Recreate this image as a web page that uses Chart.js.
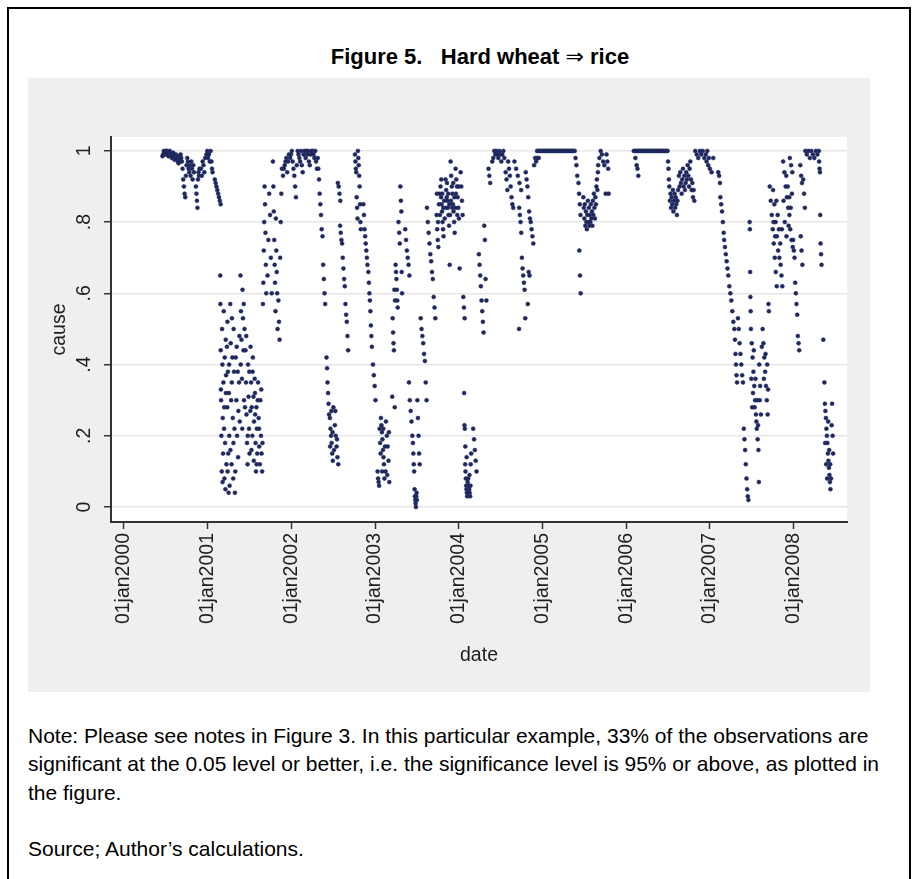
<!DOCTYPE html>
<html>
<head>
<meta charset="utf-8">
<script src="https://cdn.jsdelivr.net/npm/chart.js@4.4.0/dist/chart.umd.min.js"></script>
<style>
  body { margin: 0; background: #fff; font-family: "Liberation Sans", Arial, sans-serif; overflow: hidden; }
  #frame { position: absolute; left: 7px; top: 7px; width: 900px; height: 900px; border: 2px solid #000; border-bottom: 0; }
  #title { position: absolute; left: 180px; width: 600px; top: 43px; text-align: center; font-weight: bold; font-size: 22px; line-height: 28px; color: #000; }
  #title .arrow { font-weight: normal; font-family: "DejaVu Sans", sans-serif; }
  #panel { position: absolute; left: 28px; top: 78px; width: 842px; height: 614px; background: #efefef; }
  #note { position: absolute; left: 28px; top: 722px; font-size: 21px; line-height: 28.3px; color: #000; white-space: nowrap; }
</style>
</head>
<body>
<div id="frame"></div>
<div id="title">Figure 5.&nbsp;&nbsp;&nbsp;Hard wheat <span class="arrow">&rArr;</span> rice</div>
<canvas id="panel" width="842" height="614"></canvas>
<div id="note">Note: Please see notes in Figure 3. In this particular example, 33% of the observations are<br>significant at the 0.05 level or better, i.e. the significance level is 95% or above, as plotted in<br>the figure.<br><br>Source; Author&rsquo;s calculations.</div>
<script>
// date (decimal year), cause
var obs2000 = [
  [2000.460,.985],[2000.468,.99],[2000.476,1.0],[2000.484,.995],[2000.492,.99],[2000.500,1.0],[2000.508,.995],[2000.516,1.0],[2000.524,.99],[2000.532,.985],
  [2000.540,.995],[2000.548,1.0],[2000.556,.99],[2000.564,.985],[2000.572,.98],[2000.580,.99],[2000.588,.995],[2000.596,.985],[2000.604,.975],[2000.612,.98],
  [2000.620,.99],[2000.628,.985],[2000.636,.975],[2000.644,.97],[2000.652,.965],[2000.660,.975],[2000.668,.985],[2000.676,.99],[2000.684,.98],[2000.692,.97],
  [2000.700,.95],[2000.708,.92],[2000.716,.90],[2000.724,.88],[2000.732,.87],[2000.740,.93],[2000.748,.96],[2000.756,.98],
  [2000.764,.97],[2000.772,.95],[2000.780,.94],[2000.788,.96],[2000.796,.93],[2000.804,.97],[2000.812,.95],[2000.820,.92],[2000.828,.96],[2000.836,.94],
  [2000.860,.90],[2000.866,.88],[2000.872,.86],[2000.878,.84],[2000.884,.92],[2000.890,.94],[2000.896,.93],[2000.902,.95],
  [2000.920,.95],[2000.930,.93],[2000.940,.97],[2000.950,.96],[2000.960,.94],[2000.970,.98],[2000.985,.99],[2000.995,1.0]
];
var obs2001 = [
  [2001.005,.98],[2001.015,.99],[2001.025,.97],[2001.035,1.0],[2001.045,.97],[2001.052,.95],[2001.058,.94],
  [2001.085,.92],[2001.095,.91],[2001.105,.90],[2001.115,.89],[2001.125,.88],[2001.135,.87],[2001.145,.86],[2001.155,.85],[2001.150,.65],
  [2001.152,.57],[2001.156,.44],[2001.160,.30],[2001.164,.20],[2001.168,.10],[2001.172,.50],[2001.176,.40],[2001.180,.25],[2001.184,.15],[2001.188,.35],
  [2001.192,.55],[2001.196,.22],[2001.200,.08],[2001.204,.42],[2001.208,.18],[2001.212,.05],[2001.216,.47],[2001.220,.37],[2001.224,.12],
  [2001.230,.45],[2001.234,.28],[2001.238,.10],[2001.242,.38],[2001.246,.15],[2001.250,.04],[2001.254,.32],[2001.258,.20],[2001.262,.06],
  [2001.270,.57],[2001.275,.46],[2001.280,.30],[2001.285,.12],[2001.290,.53],[2001.295,.42],[2001.300,.25],[2001.305,.08],[2001.310,.50],[2001.315,.38],[2001.320,.22],[2001.325,.04],
  [2001.335,.42],[2001.343,.30],[2001.351,.20],[2001.359,.38],[2001.367,.27],[2001.375,.35],[2001.383,.24],
  [2001.392,.65],[2001.398,.55],[2001.404,.47],[2001.410,.36],[2001.416,.61],[2001.422,.53],[2001.428,.44],[2001.434,.30],[2001.440,.50],
  [2001.452,.44],[2001.458,.35],[2001.464,.26],[2001.470,.18],[2001.476,.12],[2001.482,.40],[2001.488,.31],[2001.494,.22],[2001.500,.15],
  [2001.512,.45],[2001.519,.35],[2001.526,.28],[2001.533,.20],[2001.540,.42],[2001.547,.31],[2001.554,.24],
  [2001.562,.36],[2001.567,.26],[2001.572,.18],[2001.577,.10],[2001.582,.28],[2001.587,.22],[2001.592,.15],
  [2001.602,.35],[2001.609,.25],[2001.616,.17],[2001.623,.12],[2001.630,.30],[2001.637,.20],[2001.644,.15],[2001.651,.10],
  [2001.158,.33],[2001.178,.07],[2001.198,.28],[2001.218,.32],[2001.236,.52],[2001.256,.40],[2001.272,.16],[2001.288,.35],[2001.308,.18],[2001.330,.10],
  [2001.347,.45],[2001.363,.14],[2001.379,.48],[2001.395,.40],[2001.413,.22],[2001.431,.57],[2001.446,.28],[2001.461,.48],[2001.479,.20],[2001.497,.38],
  [2001.509,.27],[2001.523,.16],[2001.537,.38],[2001.551,.13],[2001.565,.32],[2001.585,.12],[2001.598,.30],[2001.614,.22],[2001.640,.33],[2001.655,.18],
  [2001.660,.57],[2001.665,.63],[2001.670,.72],[2001.675,.80],[2001.680,.90],[2001.685,.85],[2001.690,.77],[2001.695,.68],[2001.700,.60],
  [2001.715,.65],[2001.725,.75],[2001.735,.88],[2001.745,.82],[2001.755,.70],[2001.765,.60],
  [2001.780,.97],[2001.785,.90],[2001.790,.83],[2001.795,.75],[2001.800,.68],[2001.805,.63],[2001.810,.55],[2001.815,.81],[2001.820,.72],[2001.825,.66],[2001.830,.60],[2001.835,.50],
  [2001.845,.58],[2001.852,.52],[2001.859,.47],[2001.866,.70],[2001.873,.80],[2001.880,.88],[2001.887,.95],
  [2001.900,.93],[2001.910,.95],[2001.920,.96],[2001.930,.97],[2001.940,.98],[2001.950,.94],[2001.960,.97],[2001.970,.99],
  [2001.985,.98],[2001.995,.99]
];
var obs2002 = [
  [2002.005,1.0],[2002.015,.97],[2002.025,.95],[2002.035,.93],[2002.045,.90],[2002.055,.87],[2002.065,.96],
  [2002.075,1.0],[2002.085,.99],[2002.095,.98],[2002.105,.97],[2002.115,1.0],[2002.125,.96],[2002.135,.94],[2002.145,.99],[2002.155,1.0],
  [2002.170,.98],[2002.180,1.0],[2002.190,.99],[2002.200,1.0],[2002.210,.97],[2002.220,.96],[2002.230,.99],[2002.240,1.0],
  [2002.255,1.0],[2002.265,.99],[2002.275,.98],[2002.285,1.0],[2002.295,.97],[2002.305,.95],[2002.315,.98],
  [2002.322,.95],[2002.330,.92],[2002.338,.88],[2002.346,.85],[2002.354,.82],[2002.362,.78],
  [2002.372,.76],[2002.380,.68],[2002.388,.64],[2002.396,.60],[2002.404,.57],
  [2002.420,.42],[2002.426,.39],[2002.432,.35],[2002.438,.32],[2002.444,.29],[2002.450,.26],
  [2002.460,.25],[2002.467,.22],[2002.474,.20],[2002.481,.18],[2002.488,.15],[2002.495,.13],[2002.502,.28],
  [2002.463,.17],[2002.478,.27],[2002.492,.21],[2002.510,.16],[2002.525,.27],[2002.545,.19],
  [2002.520,.23],[2002.530,.20],[2002.540,.17],[2002.550,.14],[2002.560,.12],
  [2002.555,.91],[2002.565,.90],[2002.575,.88],[2002.585,.86],
  [2002.582,.79],[2002.590,.77],[2002.598,.75],[2002.606,.74],[2002.614,.70],[2002.622,.67],[2002.630,.64],[2002.638,.62],[2002.646,.57],[2002.654,.54],[2002.662,.52],[2002.670,.48],[2002.678,.44],
  [2002.760,.99],[2002.765,.97],[2002.770,.95],[2002.775,.94],[2002.780,.87],[2002.785,.84],[2002.790,.81],
  [2002.795,1.0],[2002.800,.98],[2002.805,.96],[2002.810,.93],[2002.815,.90],[2002.820,.85],[2002.825,.80],[2002.830,.78],
  [2002.860,.85],[2002.867,.82],[2002.874,.78],[2002.881,.76],[2002.888,.74],[2002.895,.72],[2002.902,.70],[2002.909,.68],
  [2002.920,.66],[2002.926,.63],[2002.932,.60],[2002.938,.58],[2002.944,.55],[2002.950,.51],[2002.956,.48],[2002.962,.45],
  [2002.975,.40],[2002.985,.37],[2002.995,.34]
];
var obs2003 = [
  [2003.005,.30],
  [2003.030,.10],[2003.036,.08],[2003.042,.07],[2003.048,.06],[2003.054,.22],[2003.060,.18],
  [2003.070,.25],[2003.076,.23],[2003.082,.21],[2003.088,.19],[2003.094,.16],[2003.100,.14],[2003.106,.12],[2003.112,.08],
  [2003.066,.15],[2003.085,.10],[2003.098,.22],[2003.118,.17],[2003.125,.10],[2003.145,.09],[2003.165,.21],
  [2003.130,.24],[2003.140,.20],[2003.150,.17],[2003.160,.13],[2003.170,.07],
  [2003.205,.31],[2003.235,.28],
  [2003.210,.53],[2003.215,.49],[2003.220,.46],[2003.225,.44],[2003.230,.61],[2003.238,.58],
  [2003.245,.68],[2003.250,.66],[2003.255,.64],[2003.260,.61],[2003.265,.58],[2003.270,.56],[2003.280,.80],[2003.288,.77],[2003.295,.74],
  [2003.302,.90],[2003.308,.86],[2003.314,.83],[2003.318,.66],[2003.322,.60],
  [2003.360,.78],[2003.370,.75],[2003.380,.72],[2003.390,.70],[2003.400,.68],[2003.410,.65],
  [2003.405,.35],[2003.415,.30],[2003.425,.27],[2003.435,.24],[2003.445,.20],
  [2003.452,.18],[2003.457,.15],[2003.462,.12],[2003.467,.10],[2003.472,.05],[2003.476,.03],[2003.480,.02],[2003.484,.01],[2003.488,.0],[2003.492,.03],[2003.496,.04],[2003.500,.02],
  [2003.505,.30],[2003.512,.25],[2003.519,.20],[2003.526,.15],[2003.533,.12],
  [2003.545,.53],[2003.555,.50],[2003.565,.48],[2003.575,.46],[2003.585,.43],[2003.595,.41],[2003.605,.35],[2003.615,.30],
  [2003.620,.84],[2003.630,.80],[2003.640,.77],[2003.650,.74],[2003.660,.71],[2003.670,.69],[2003.680,.66],[2003.690,.64],[2003.700,.59],[2003.710,.56],[2003.720,.53],
  [2003.735,.82],[2003.742,.78],[2003.749,.75],[2003.756,.73],[2003.763,.85],[2003.770,.88],
  [2003.782,.90],[2003.788,.87],[2003.794,.85],[2003.800,.83],[2003.806,.80],[2003.812,.78],[2003.818,.76],
  [2003.842,.92],[2003.849,.89],[2003.856,.87],[2003.863,.86],[2003.870,.84],[2003.877,.82],[2003.884,.79],[2003.891,.68],
  [2003.902,.97],[2003.909,.93],[2003.916,.90],[2003.923,.88],[2003.930,.85],[2003.937,.83],[2003.944,.80],[2003.951,.77],
  [2003.962,.95],[2003.970,.92],[2003.978,.90],[2003.986,.87],[2003.994,.84],
  [2003.738,.88],[2003.752,.80],[2003.775,.82],[2003.791,.92],[2003.803,.88],[2003.815,.84],[2003.825,.86],[2003.832,.81],[2003.846,.84],[2003.859,.91],
  [2003.874,.88],[2003.887,.85],[2003.896,.82],[2003.906,.86],[2003.920,.84],[2003.934,.91],[2003.948,.87],[2003.958,.84],[2003.966,.88],[2003.982,.82],[2003.998,.90]
];
var obs2004 = [
  [2004.002,.81],[2004.010,.67],
  [2004.022,.94],[2004.030,.90],[2004.038,.86],[2004.046,.82],[2004.054,.59],[2004.062,.56],[2004.070,.53],
  [2004.064,.32],[2004.068,.23],[2004.072,.22],[2004.076,.12],[2004.080,.10],[2004.084,.08],[2004.088,.06],[2004.092,.05],[2004.096,.04],[2004.100,.03],
  [2004.112,.08],[2004.118,.06],[2004.124,.05],[2004.130,.04],[2004.136,.03],[2004.142,.12],[2004.148,.15],
  [2004.078,.17],[2004.094,.14],[2004.106,.07],[2004.128,.09],[2004.140,.06],
  [2004.172,.22],[2004.182,.19],[2004.192,.16],[2004.202,.13],[2004.212,.10],
  [2004.240,.71],[2004.248,.68],[2004.256,.65],[2004.264,.62],[2004.272,.58],[2004.280,.55],[2004.288,.52],[2004.296,.49],
  [2004.304,.79],[2004.312,.75],[2004.320,.64],[2004.330,.58],
  [2004.355,.95],[2004.365,.93],[2004.375,.91],
  [2004.400,.97],[2004.412,.98],[2004.424,1.0],[2004.436,.99],[2004.448,1.0],[2004.460,.99],[2004.472,.98],[2004.484,1.0],[2004.496,.99],[2004.508,.97],[2004.520,.99],[2004.532,1.0],[2004.544,.98],
  [2004.560,.94],[2004.570,.92],[2004.580,.89],
  [2004.590,.97],[2004.600,.95],[2004.610,.93],[2004.620,.90],[2004.630,.87],[2004.640,.85],[2004.650,.84],
  [2004.665,.97],[2004.685,.95],[2004.705,.93],[2004.725,.91],[2004.745,.89],
  [2004.722,.84],[2004.730,.82],[2004.738,.80],[2004.746,.77],[2004.754,.70],[2004.762,.67],[2004.770,.65],[2004.778,.63],[2004.786,.61],[2004.794,.53],[2004.720,.50],
  [2004.800,.94],[2004.810,.92],[2004.820,.90],[2004.830,.87],[2004.840,.83],[2004.850,.81],[2004.860,.80],[2004.870,.78],[2004.880,.76],[2004.890,.74],[2004.835,.66],[2004.845,.65],[2004.825,.57],
  [2004.900,.96],[2004.912,.98],[2004.924,.97],[2004.940,.98],[2004.955,.98],
  [2004.935,1.0],[2004.950,1.0],[2004.965,1.0],[2004.980,1.0],[2004.995,1.0]
];
var obs2005 = [
  [2005.010,1.0],[2005.025,1.0],[2005.040,1.0],[2005.055,1.0],[2005.070,1.0],[2005.085,1.0],[2005.100,1.0],[2005.115,1.0],[2005.130,1.0],[2005.145,1.0],
  [2005.160,1.0],[2005.175,1.0],[2005.190,1.0],[2005.205,1.0],[2005.220,1.0],[2005.235,1.0],[2005.250,1.0],[2005.265,1.0],[2005.280,1.0],[2005.295,1.0],
  [2005.310,1.0],[2005.325,1.0],[2005.340,1.0],[2005.355,1.0],[2005.370,1.0],[2005.385,1.0],
  [2005.395,.98],[2005.405,.96],[2005.415,.93],
  [2005.430,.91],[2005.438,.88],[2005.446,.85],[2005.454,.82],[2005.440,.72],[2005.448,.65],[2005.456,.60],
  [2005.488,.87],[2005.494,.84],[2005.500,.81],[2005.506,.85],[2005.512,.79],[2005.518,.83],[2005.524,.80],[2005.530,.78],[2005.536,.82],[2005.542,.86],
  [2005.548,.80],[2005.554,.84],[2005.560,.79],[2005.566,.82],[2005.572,.80],[2005.578,.85],[2005.584,.81],[2005.590,.83],[2005.596,.79],[2005.602,.86],
  [2005.608,.82],[2005.614,.88],[2005.620,.84],[2005.626,.81],[2005.632,.87],[2005.638,.85],[2005.644,.90],[2005.650,.92],[2005.656,.89],[2005.662,.94],
  [2005.665,.96],[2005.680,.98],[2005.695,1.0],[2005.710,.99],[2005.725,.97],[2005.740,.96],[2005.755,.88],
  [2005.765,.99],[2005.775,.97],[2005.785,.95],[2005.790,.88]
];
var obs2006 = [
  [2006.090,1.0],[2006.105,1.0],[2006.120,1.0],[2006.135,1.0],[2006.150,1.0],[2006.165,1.0],[2006.180,1.0],[2006.195,1.0],[2006.210,1.0],[2006.225,1.0],
  [2006.240,1.0],[2006.255,1.0],[2006.270,1.0],[2006.285,1.0],[2006.300,1.0],[2006.315,1.0],[2006.330,1.0],[2006.345,1.0],[2006.360,1.0],[2006.375,1.0],
  [2006.390,1.0],[2006.405,1.0],[2006.420,1.0],[2006.435,1.0],[2006.450,1.0],[2006.465,1.0],[2006.480,1.0],[2006.495,1.0],
  [2006.110,.98],[2006.125,.96],[2006.135,.95],[2006.145,.93],
  [2006.500,.97],[2006.505,.95],[2006.510,.92],
  [2006.515,.90],[2006.522,.86],[2006.529,.88],[2006.536,.84],[2006.543,.87],[2006.550,.85],[2006.557,.89],[2006.564,.83],[2006.571,.86],[2006.578,.88],
  [2006.585,.84],[2006.592,.87],[2006.599,.85],[2006.606,.82],[2006.613,.86],[2006.620,.89],
  [2006.630,.93],[2006.638,.90],[2006.646,.94],[2006.654,.91],[2006.662,.88],[2006.670,.92],[2006.678,.95],[2006.686,.90],[2006.694,.93],[2006.702,.89],
  [2006.710,.91],[2006.718,.94],[2006.726,.92],[2006.734,.96],[2006.742,.93],[2006.750,.90],[2006.758,.95],[2006.766,.97],[2006.774,.92],[2006.782,.89],
  [2006.790,.91],[2006.798,.87],[2006.806,.89],[2006.814,.86],
  [2006.825,1.0],[2006.843,.99],[2006.861,.98],[2006.879,1.0],[2006.897,.99],[2006.915,1.0],[2006.933,.98],[2006.951,.99],[2006.969,1.0],[2006.987,.98],
  [2006.960,.97],[2006.980,.96]
];
var obs2007 = [
  [2007.000,.95],[2007.020,.94],[2007.040,.98],
  [2007.100,.94],[2007.110,.93],[2007.120,.91],
  [2007.125,.87],[2007.135,.85],[2007.145,.83],[2007.155,.80],[2007.165,.77],
  [2007.170,.75],[2007.180,.73],[2007.190,.71],[2007.200,.69],[2007.210,.67],
  [2007.220,.65],[2007.232,.62],[2007.244,.60],[2007.256,.58],[2007.268,.55],[2007.280,.52],[2007.292,.50],
  [2007.300,.47],[2007.306,.43],[2007.312,.40],[2007.318,.37],[2007.324,.35],
  [2007.335,.53],[2007.345,.50],[2007.355,.46],[2007.365,.43],[2007.375,.40],[2007.385,.37],[2007.395,.35],
  [2007.405,.22],[2007.413,.19],[2007.421,.16],[2007.429,.12],[2007.437,.08],[2007.445,.05],[2007.453,.03],[2007.460,.02],
  [2007.475,.80],[2007.478,.78],[2007.481,.66],[2007.484,.59],[2007.487,.55],
  [2007.490,.50],[2007.500,.46],[2007.510,.42],[2007.520,.38],[2007.530,.34],[2007.540,.30],[2007.550,.26],
  [2007.515,.32],[2007.535,.28],[2007.555,.24],[2007.575,.23],[2007.595,.30],[2007.610,.26],
  [2007.495,.36],[2007.505,.28],[2007.525,.44],[2007.545,.36],[2007.565,.30],[2007.590,.40],[2007.600,.34],[2007.620,.45],[2007.645,.36],[2007.665,.43],[2007.685,.40],[2007.695,.33],
  [2007.560,.22],[2007.570,.19],[2007.580,.16],[2007.585,.07],
  [2007.630,.50],[2007.640,.46],[2007.650,.42],[2007.660,.38],[2007.670,.34],[2007.680,.30],[2007.690,.26],[2007.700,.57],[2007.705,.55],
  [2007.715,.90],[2007.727,.86],[2007.739,.82],[2007.751,.78],[2007.763,.74],[2007.775,.70],[2007.787,.66],[2007.799,.62],
  [2007.755,.89],[2007.770,.85],[2007.785,.80],[2007.800,.76],[2007.815,.72],[2007.830,.70],[2007.845,.68],[2007.855,.65],[2007.865,.62],
  [2007.760,.80],[2007.780,.76],[2007.795,.86],[2007.810,.82],[2007.825,.78],[2007.840,.74],[2007.860,.78],[2007.880,.86],[2007.895,.80],[2007.915,.76],[2007.940,.79],[2007.980,.88],
  [2007.875,.97],[2007.890,.94],[2007.905,.90],[2007.920,.87],[2007.935,.84],[2007.950,.82],
  [2007.912,.93],[2007.930,.90],[2007.948,.87],[2007.966,.84],
  [2007.955,.98],[2007.970,.96],[2007.985,.94],[2007.960,.78],[2007.975,.75],[2007.990,.73],[2007.995,.75]
];
var obs2008 = [
  [2008.003,.72],[2008.011,.70],[2008.019,.63],[2008.027,.60],[2008.035,.57],[2008.043,.54],[2008.051,.48],[2008.059,.46],[2008.067,.44],
  [2008.080,.96],[2008.090,.93],[2008.100,.91],[2008.085,.76],[2008.095,.72],[2008.105,.68],
  [2008.115,.92],[2008.125,.88],[2008.135,.84],
  [2008.140,1.0],[2008.158,.99],[2008.176,1.0],[2008.194,.98],[2008.212,1.0],[2008.230,.99],[2008.248,.98],[2008.266,1.0],[2008.284,.99],[2008.302,1.0],
  [2008.305,.97],[2008.310,.95],[2008.315,.94],[2008.318,.82],
  [2008.322,.74],[2008.328,.71],[2008.334,.68],
  [2008.355,.47],
  [2008.368,.35],[2008.374,.29],[2008.380,.27],[2008.386,.25],[2008.392,.22],[2008.398,.20],[2008.404,.18],[2008.410,.15],[2008.416,.13],[2008.422,.11],[2008.428,.09],[2008.434,.07],[2008.440,.05],
  [2008.377,.18],[2008.389,.12],[2008.401,.08],[2008.413,.24],[2008.425,.16],[2008.437,.12],[2008.447,.08],[2008.455,.23],
  [2008.460,.29],[2008.466,.20],[2008.472,.15]
];

var xTickYears = [2000, 2001, 2002, 2003, 2004, 2005, 2006, 2007, 2008];
var xTickLabels = ['01jan2000', '01jan2001', '01jan2002', '01jan2003', '01jan2004', '01jan2005', '01jan2006', '01jan2007', '01jan2008'];
var yTickValues = [0, 0.2, 0.4, 0.6, 0.8, 1];
var yTickLabels = ['0', '.2', '.4', '.6', '.8', '1'];

var allObs = [].concat(obs2000, obs2001, obs2002, obs2003, obs2004, obs2005, obs2006, obs2007, obs2008);
var points = allObs.map(function(p) { return { x: p[0], y: p[1] }; });

var fontFam = '"Liberation Sans", Arial, sans-serif';
Chart.defaults.font.family = fontFam;

// white plot region + rotated tick labels (Stata style)
var stataBits = {
  id: 'stataBits',
  beforeDraw: function(chart) {
    var a = chart.chartArea, ctx = chart.ctx;
    ctx.save();
    ctx.fillStyle = '#ffffff';
    ctx.fillRect(a.left, a.top, a.right - a.left, a.bottom - a.top);
    ctx.restore();
  },
  afterDraw: function(chart) {
    var ctx = chart.ctx, xs = chart.scales.x, ys = chart.scales.y;
    ctx.save();
    ctx.font = '19.5px ' + fontFam;
    ctx.fillStyle = '#1e1e1e';
    ctx.textBaseline = 'middle';
    ctx.textAlign = 'center';
    for (var i = 0; i < yTickValues.length; i++) {
      ctx.save();
      ctx.translate(57, ys.getPixelForValue(yTickValues[i]));
      ctx.rotate(-Math.PI / 2);
      ctx.fillText(yTickLabels[i], 0, 0);
      ctx.restore();
    }
    ctx.textAlign = 'right';
    for (var j = 0; j < xTickYears.length; j++) {
      ctx.save();
      ctx.translate(xs.getPixelForValue(xTickYears[j]), chart.chartArea.bottom + 11);
      ctx.rotate(-Math.PI / 2);
      ctx.fillText(xTickLabels[j], 0, 0);
      ctx.restore();
    }
    ctx.restore();
  }
};

var ctx = document.getElementById('panel');
var chart = new Chart(ctx, {
  type: 'scatter',
  data: {
    datasets: [{
      label: 'cause',
      data: points,
      pointRadius: 2,
      pointBackgroundColor: 'rgb(30,40,95)',
      pointBorderColor: 'rgb(30,40,95)',
      pointBorderWidth: 0.5
    }]
  },
  options: {
    responsive: false,
    animation: false,
    devicePixelRatio: 1,
    layout: { padding: { left: 0, top: 59, right: 23, bottom: 0 } },
    plugins: { legend: { display: false }, tooltip: { enabled: false } },
    scales: {
      x: {
        type: 'linear',
        min: 1999.845,
        max: 2008.638,
        afterBuildTicks: function(s) { s.ticks = xTickYears.map(function(v) { return { value: v }; }); },
        afterFit: function(s) { s.height = 170; },
        ticks: { display: false },
        grid: { drawOnChartArea: false, drawTicks: true, tickLength: 7, tickColor: '#333', tickWidth: 1.5 },
        border: { display: true, color: '#333', width: 2 },
        title: { display: true, text: 'date', color: '#1e1e1e', font: { size: 19.5 }, padding: { bottom: 25 } }
      },
      y: {
        min: -0.042,
        max: 1.039,
        afterBuildTicks: function(s) { s.ticks = yTickValues.map(function(v) { return { value: v }; }); },
        afterFit: function(s) { s.width = 83; },
        ticks: { display: false },
        grid: { color: '#e6e6e6', lineWidth: 1.5, tickLength: 7, tickColor: '#333', tickWidth: 1.5 },
        border: { display: true, color: '#333', width: 2 },
        title: { display: true, text: 'cause', color: '#1e1e1e', font: { size: 19.5 }, padding: { top: 20 } }
      }
    }
  },
  plugins: [stataBits]
});
</script>
</body>
</html>
